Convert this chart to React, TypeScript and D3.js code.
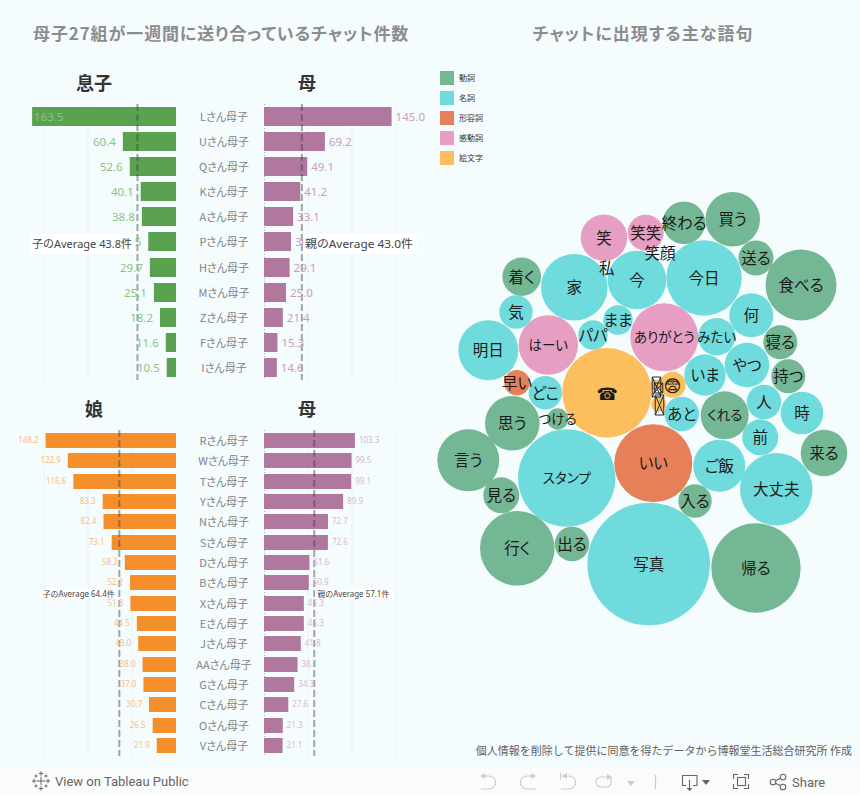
import React, { useEffect } from "react";
import * as d3 from "d3";

const sonNames = ["L","U","Q","K","A","P","H","M","Z","F","I"];
const sonValues = [163.5,60.4,52.6,40.1,38.8,31.5,29.7,25.1,18.2,11.6,10.5];
const sonMotherValues = [145.0,69.2,49.1,41.2,33.1,30.7,29.1,25.0,21.4,15.3,14.6];
const sonAverage = 43.8;
const sonMotherAverage = 43.0;

const daughterNames = ["R","W","T","Y","N","S","D","B","X","E","J","AA","G","C","O","V"];
const daughterValues = [148.2,122.9,116.6,83.3,82.4,73.1,58.2,52.2,51.8,44.5,43.0,38.0,37.0,30.7,26.5,21.9];
const daughterMotherValues = [103.3,99.5,99.1,89.9,72.7,72.6,51.6,50.9,45.3,45.3,41.8,38.1,34.3,27.6,21.3,21.1];
const daughterAverage = 64.4;
const daughterMotherAverage = 57.1;

const axisTicks = [0,50,100,150];

const legendKinds = ["動詞","名詞","形容詞","感動詞","絵文字"];

const bubbleWords = ["写真","スタンプ","帰る","☎","いい","今日","行く","大丈夫","食べる","ありがとう","家","言う","明日","はーい","今","買う","思う","ご飯","くれる","笑","来る","やつ","何","終わる","時","いま","着く","みたい","笑笑","前","見る","送る","寝る","持つ","あと","人","出る","気","どこ","入る","まま","パパ","\u{1F628}\uFE0E","早い","つける","",""];
const bubbleKinds = ["名詞","名詞","動詞","絵文字","形容詞","名詞","動詞","名詞","動詞","感動詞","名詞","動詞","名詞","感動詞","名詞","動詞","動詞","名詞","動詞","感動詞","動詞","名詞","名詞","動詞","名詞","名詞","動詞","名詞","感動詞","名詞","動詞","動詞","動詞","動詞","名詞","名詞","動詞","名詞","名詞","動詞","名詞","名詞","絵文字","形容詞","動詞","絵文字","絵文字"];
const bubbleCounts = [3758,2372,1998,1998,1521,1421,1391,1318,1260,1156,1109,961,900,882,858,745,745,676,576,543,543,497,484,454,454,428,372,350,324,324,324,306,289,289,299,299,299,279,279,279,216,216,169,161,114,56,30];
const bubbleLayoutX = [218.7,136.7,326,177,223.3,274,87.3,346.3,371,234.3,144.3,38.3,58.3,118.3,207,302.7,82.3,289.3,294.7,174,394,317,321.3,254,372,275,91.7,286.7,215.7,330.3,71.3,326,350.3,358.3,251.7,334,142,86,115.3,265,188,163,242.7,87,127.7,228.7,225];
const bubbleLayoutY = [374,288,378,202.7,273.3,88,358.3,299.3,95,147.3,97.3,270.3,160.3,155,90,29.3,233.3,275.7,225.3,47.7,263,175,125.3,32.7,223,185,86.7,146.7,42.7,247.3,305.3,68,152.3,186.3,224,212,354,122,202.7,311,130,145,194.7,192.7,229,214.3,195];
const labelOnlyWords = ["笑顔","私"];
const labelOnlyX = [230,176.7];
const labelOnlyY = [62.7,78.3];
// Emoji the reference could not draw: it shows them as crossed boxes.
const missingGlyphX = [226.5,229.5,228.5];
const missingGlyphY = [197,215,198];
const missingGlyphH = [20,20,10];

const W = 860, H = 795;
const BG = "#f5fcfe";
const CJK = "'Noto Sans CJK JP','Noto Sans',sans-serif";
const LAT = "'Noto Sans','Noto Sans CJK JP',sans-serif";
const PALT: React.CSSProperties = { fontFeatureSettings: "'palt'" };
const ALL_KANA = /^[\u3040-\u30ff]{3,}$/;

const xLeft = d3.scaleLinear().domain([0,150]).range([176,44]);
const xRight = d3.scaleLinear().domain([0,150]).range([264,396]);
const kindColor = d3.scaleOrdinal<string,string>().domain(legendKinds).range(["#74b795","#6fdbdc","#e58059","#e69fc3","#fdbe5e"]);
const bubbleX = d3.scaleLinear().domain([0,430]).range([430,860]);
const bubbleY = d3.scaleLinear().domain([0,450]).range([190,640]);
const bubbleR = d3.scaleSqrt().domain([0,3758]).range([0,61.3]);
const legendY = d3.scaleBand<string>().domain(legendKinds).range([71,165]).paddingInner(0.3);

type PanelProps = {
  names: string[]; kid: number[]; mom: number[]; kidAvg: number; momAvg: number;
  top: number; bottom: number; inner: number; gridTop: number; gridBottom: number;
  kidColor: string; kidText: string; momText: string; valueSize: number; headY: number; headKid: string;
  avgSize: number; avgY: number; avgH: number; avgKidX: [number,number]; avgMomX: [number,number];
  kidTextX: number; kidTextLen: number; momTextX: number; momTextLen: number;
};

function Panel(p: PanelProps) {
  const y = d3.scaleBand<string>().domain(p.names).range([p.top,p.bottom]).paddingInner(p.inner);
  const bh = Math.round(y.bandwidth());
  const dash = "7 3";
  return (
    <g>
      <text x={94} y={p.headY} textAnchor="middle" fontFamily={CJK} fontWeight={700} fontSize={18} fill="#333">{p.headKid}</text>
      <text x={307} y={p.headY} textAnchor="middle" fontFamily={CJK} fontWeight={700} fontSize={18} fill="#333">母</text>
      {axisTicks.slice(1).map(t => <line key={"l"+t} x1={xLeft(t)} x2={xLeft(t)} y1={p.gridTop} y2={p.gridBottom} stroke="#edf1f3" />)}
      {axisTicks.slice(1).map(t => <line key={"r"+t} x1={xRight(t)} x2={xRight(t)} y1={p.gridTop} y2={p.gridBottom} stroke="#edf1f3" />)}
      <line x1={xRight(0)+0.5} x2={xRight(0)+0.5} y1={p.gridTop} y2={p.gridBottom} stroke="#aaa" strokeDasharray="1 2" />
      {p.names.map((n,i) => {
        const yy = Math.round(y(n)!);
        return (
          <g key={n}>
            <rect x={xLeft(p.kid[i])} y={yy} width={xLeft(0)-xLeft(p.kid[i])} height={bh} fill={p.kidColor} />
            <rect x={xRight(0)} y={yy} width={xRight(p.mom[i])-xRight(0)} height={bh} fill="#b0779f" />
          </g>
        );
      })}
      <line x1={xLeft(p.kidAvg)} x2={xLeft(p.kidAvg)} y1={p.gridTop} y2={p.gridBottom} stroke="#3c3c3c" strokeOpacity={0.45} strokeWidth={2} strokeDasharray={dash} />
      <line x1={xRight(p.momAvg)} x2={xRight(p.momAvg)} y1={p.gridTop} y2={p.gridBottom} stroke="#3c3c3c" strokeOpacity={0.45} strokeWidth={2} strokeDasharray={dash} />
      {p.names.map((n,i) => {
        const cy = Math.round(y(n)!) + bh/2;
        const inside = xLeft(p.kid[i]) < 40;
        return (
          <g key={n}>
            <text x={inside ? xLeft(p.kid[i])+2 : xLeft(p.kid[i])-7} y={cy} dy="0.36em" textAnchor={inside ? "start" : "end"} fontFamily={LAT} fontSize={p.valueSize} fill={p.kidText}>{p.kid[i].toFixed(1)}</text>
            <text x={xRight(p.mom[i])+4} y={cy} dy="0.36em" fontFamily={LAT} fontSize={p.valueSize} fill={p.momText}>{p.mom[i].toFixed(1)}</text>
            <text x={224} y={cy+0.5} dy="0.36em" textAnchor="middle" fontFamily={CJK} fontSize={11} fill="#838383" style={PALT}>{n}さん母子</text>
          </g>
        );
      })}
      <rect x={p.avgKidX[0]} y={p.avgY-p.avgH/2} width={p.avgKidX[1]-p.avgKidX[0]} height={p.avgH} fill="#fff" fillOpacity={0.85} />
      <text x={p.kidTextX} y={p.avgY} dy="0.36em" textLength={p.kidTextLen} lengthAdjust="spacingAndGlyphs" fontFamily={LAT} fontSize={p.avgSize} fill="#444">子のAverage {p.kidAvg.toFixed(1)}件</text>
      <rect x={p.avgMomX[0]} y={p.avgY-p.avgH/2} width={p.avgMomX[1]-p.avgMomX[0]} height={p.avgH} fill="#fff" fillOpacity={0.85} />
      <text x={p.momTextX} y={p.avgY} dy="0.36em" textLength={p.momTextLen} lengthAdjust="spacingAndGlyphs" fontFamily={LAT} fontSize={p.avgSize} fill="#444">親のAverage {p.momAvg.toFixed(1)}件</text>
    </g>
  );
}

function Toolbar() {
  const off = "#cdcdcd", on = "#666";
  const logo: [number,number,number][] = [[41,781,4.2],[41,773.5,2.2],[41,788.5,2.2],[34,781,2.2],[48,781,2.2],[36,776,1.5],[46,776,1.5],[36,786,1.5],[46,786,1.5]];
  return (
    <g>
      <rect x={0} y={767} width={W} height={28} fill="#fafbfb" />
      {logo.map(([x,y,s],i) => <path key={i} d={`M${x-s} ${y}H${x+s}M${x} ${y-s}V${y+s}`} stroke="#666" strokeWidth={1} fill="none" />)}
      <text x={55} y={786} fontFamily="Roboto,sans-serif" fontWeight={400} fontSize={13} fill="#666">View on Tableau Public</text>
      <g fill="none" stroke={off} strokeWidth={1.2}>
        <path d="M482 776H489a6.5 6.5 0 0 1 0 13H481" />
        <path d="M535 776H527a6.5 6.5 0 0 0 0 13H536" />
        <path d="M562 776H569a6.5 6.5 0 0 1 0 13H561M560.5 773V780" />
        <path d="M610 777H601a4.5 4.5 0 0 0 0 10H607a4.5 4.5 0 0 0 4-5V777" />
        <path d="M655.5 775V789" />
      </g>
      <g fill={off}>
        <path d="M480 776l5-3v6z" /><path d="M536 776l-5-3v6z" /><path d="M562 776l5-3v6z" /><path d="M612 777l-5-3v6z" />
        <path d="M627 781h8l-4 5z" />
      </g>
      <g fill="none" stroke={on} strokeWidth={1.1}>
        <path d="M686 785.5H682.5V775.5H697V785.5H693M689.5 780V790" />
        <path d="M733.5 779V774.5H738M744 774.5H748.5V779M748.5 784V788.5H744M738 788.5H733.5V784" />
        <rect x={737.5} y={777.5} width={8} height={8} />
        <circle cx={773} cy={782} r={2.8} /><circle cx={783} cy={777} r={2.8} /><circle cx={783} cy={787} r={2.8} />
        <path d="M775.5 780.8L780.5 778.2M775.5 783.2L780.5 785.8" />
      </g>
      <path d="M686.5 788h6l-3 3z M702 780h8l-4 5z" fill={on} />
      <text x={792} y={787} fontFamily="Roboto,sans-serif" fontWeight={400} fontSize={13} fill="#666">Share</text>
    </g>
  );
}

export default function App() {
  useEffect(() => { document.body.style.margin = "0"; document.body.style.background = BG; }, []);
  return (
    <svg width={W} height={H} viewBox={`0 0 ${W} ${H}`} style={{ display: "block", position: "absolute", left: 0, top: 0 }}>
      <rect width={W} height={H} fill={BG} />
      <text x={33} y={40} fontFamily={CJK} fontWeight={700} fontSize={17} letterSpacing={0.88} fill="#8c8c8c" style={PALT}>母子27組が一週間に送り合っているチャット件数</text>
      <text x={643} y={40} textAnchor="middle" fontFamily={CJK} fontWeight={700} fontSize={17} letterSpacing={1} fill="#8c8c8c" style={PALT}>チャットに出現する主な語句</text>

      <Panel names={sonNames} kid={sonValues} mom={sonMotherValues} kidAvg={sonAverage} momAvg={sonMotherAverage}
        top={107} bottom={377} inner={0.24} gridTop={104} gridBottom={380}
        kidColor="#5aa24f" kidText="#8cc47f" momText="#c99cbd" valueSize={11.5} headY={90} headKid="息子"
        avgSize={11} avgY={244} avgH={20} avgKidX={[30,134]} avgMomX={[303,417]}
        kidTextX={32} kidTextLen={100} momTextX={305} momTextLen={108} />
      <Panel names={daughterNames} kid={daughterValues} mom={daughterMotherValues} kidAvg={daughterAverage} momAvg={daughterMotherAverage}
        top={433} bottom={753} inner={0.26} gridTop={430} gridBottom={756}
        kidColor="#f58f2c" kidText="#f9bd83" momText="#d8b8d0" valueSize={8} headY={416} headKid="娘"
        avgSize={8} avgY={594} avgH={10} avgKidX={[41,117]} avgMomX={[315,393]}
        kidTextX={42.7} kidTextLen={72} momTextX={317.3} momTextLen={72} />

      {legendKinds.map(k => (
        <g key={k}>
          <rect x={440} y={legendY(k)} width={14} height={14} fill={kindColor(k)} />
          <text x={459} y={legendY(k)!+7} dy="0.4em" fontFamily={CJK} fontSize={8} fill="#333">{k}</text>
        </g>
      ))}

      {bubbleWords.map((w,i) => (
        <circle key={i} cx={bubbleX(bubbleLayoutX[i])} cy={bubbleY(bubbleLayoutY[i])} r={bubbleR(bubbleCounts[i])} fill={kindColor(bubbleKinds[i])} />
      ))}
      {bubbleWords.map((w,i) => {
        if (!w) return null;
        const sym = w === "☎" || w.startsWith("\u{1F628}");
        const size = sym ? 17 : ALL_KANA.test(w) ? 13.5 : 15.5;
        return (
          <text key={i} x={bubbleX(bubbleLayoutX[i])} y={bubbleY(bubbleLayoutY[i])} dy={sym ? "0.4em" : "0.38em"} textAnchor="middle" fontFamily={sym ? "'DejaVu Sans'" : CJK} fontSize={size} fill="#1a1a1a" style={sym ? undefined : PALT}>{w}</text>
        );
      })}
      {labelOnlyWords.map((w,i) => (
        <text key={w} x={bubbleX(labelOnlyX[i])} y={bubbleY(labelOnlyY[i])} dy="0.38em" textAnchor="middle" fontFamily={CJK} fontSize={15.5} fill="#1a1a1a" style={PALT}>{w}</text>
      ))}
      {missingGlyphX.map((gx,i) => {
        const cx = bubbleX(gx), cy = bubbleY(missingGlyphY[i]), h = missingGlyphH[i], w = 8.5;
        const l = cx-w/2, r = cx+w/2, t = cy-h/2, b = cy+h/2;
        return <path key={i} d={`M${l} ${t}H${r}V${b}H${l}ZM${l} ${t}L${r} ${b}M${r} ${t}L${l} ${b}`} fill="none" stroke="#2a2a2a" strokeWidth={1} />;
      })}

      <text x={852} y={755} textAnchor="end" fontFamily={CJK} fontSize={11} fill="#606060">個人情報を削除して提供に同意を得たデータから博報堂生活総合研究所 作成</text>
      <Toolbar />
    </svg>
  );
}
